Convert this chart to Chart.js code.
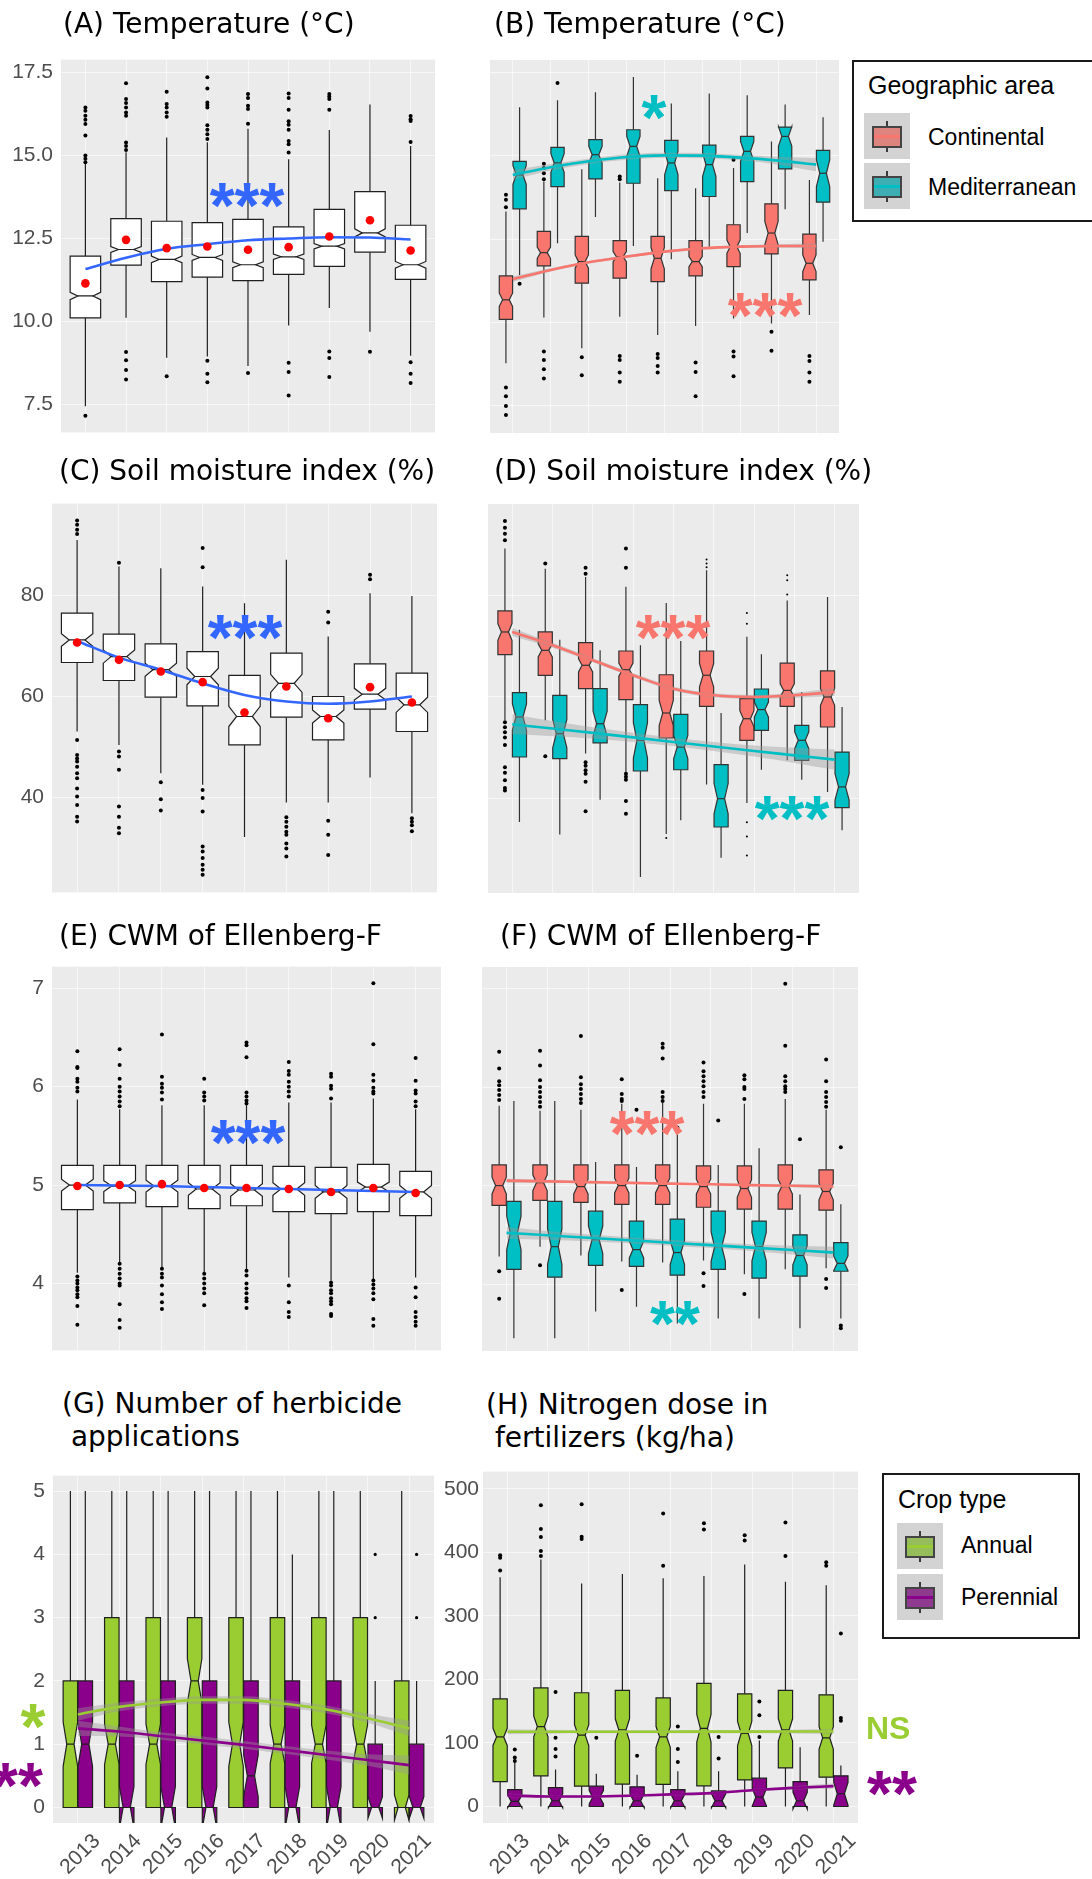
<!DOCTYPE html>
<html>
<head>
<meta charset="utf-8">
<script src="https://cdn.jsdelivr.net/npm/chart.js@4.4.1/dist/chart.umd.min.js"></script>
<style>
  body { margin: 0; width: 1092px; height: 1879px; position: relative; overflow: hidden; background: #fff; }
  .panel { position: absolute; }
</style>
</head>
<body>
<script>
// Years on the x axis
const years = ['2013', '2014', '2015', '2016', '2017', '2018', '2019', '2020', '2021'];

// (A) Temperature, all sites
const tempQ1 = [10.11, 11.70, 11.20, 11.34, 11.23, 11.42, 11.66, 12.09, 11.27];
const tempMed = [10.77, 12.17, 11.87, 11.93, 11.71, 11.95, 12.27, 12.67, 11.71];
const tempQ3 = [11.97, 13.10, 13.02, 12.98, 13.08, 12.85, 13.38, 13.91, 12.90];
const tempLo = [7.45, 10.11, 8.91, 8.95, 8.66, 9.88, 10.41, 9.69, 8.97];
const tempHi = [14.75, 15.10, 15.54, 15.40, 15.81, 14.89, 15.77, 16.54, 15.29];
const tempNotch = [0.11, 0.09, 0.10, 0.09, 0.09, 0.08, 0.08, 0.12, 0.10];
const tempMean = [11.15, 12.46, 12.21, 12.26, 12.16, 12.24, 12.56, 13.05, 12.14];
const tempFit = [11.58, 11.92, 12.19, 12.33, 12.45, 12.50, 12.54, 12.53, 12.47];
const tempOut = [
  [16.45, 16.35, 16.2, 16.08, 15.95, 15.6, 15.0, 14.9, 14.8, 7.16],
  [17.18, 16.7, 16.58, 16.45, 16.3, 16.2, 15.39, 15.29, 15.17, 9.08, 8.83, 8.54, 8.25],
  [16.92, 16.55, 16.45, 16.3, 16.17, 8.35],
  [17.36, 17.02, 16.6, 16.52, 16.45, 15.91, 15.78, 15.64, 15.5, 8.82, 8.43, 8.17],
  [16.85, 16.73, 16.5, 16.4, 15.96, 8.45],
  [16.87, 16.73, 16.38, 16.03, 15.93, 15.78, 15.44, 15.34, 15.09, 8.76, 8.48, 7.77],
  [16.85, 16.78, 16.7, 16.38, 9.1, 8.9, 8.33],
  [9.09],
  [16.19, 16.09, 16.04, 15.41, 8.77, 8.43, 8.15]
];

// (B) Temperature by geographic area
const tcQ1 = [10.08, 11.69, 11.17, 11.32, 11.22, 11.39, 11.67, 12.05, 11.27];
const tcMed = [10.67, 12.09, 11.82, 11.97, 11.92, 11.82, 12.27, 12.68, 11.77];
const tcQ3 = [11.39, 12.73, 12.58, 12.45, 12.58, 12.45, 12.93, 13.56, 12.65];
const tcLo = [8.76, 10.14, 9.21, 10.16, 9.61, 9.88, 10.11, 9.96, 10.21];
const tcHi = [13.33, 14.23, 14.60, 14.20, 14.33, 14.03, 14.64, 15.44, 14.28];
const tcNotch = [0.20, 0.17, 0.20, 0.15, 0.32, 0.15, 0.20, 0.35, 0.25];
const tcFit = [11.29, 11.57, 11.80, 11.97, 12.12, 12.22, 12.27, 12.29, 12.29];
const tcSe = [0.08, 0.05, 0.04, 0.04, 0.04, 0.04, 0.04, 0.05, 0.08];
const tcOut = [
  [13.83, 13.68, 13.46, 8.03, 7.77, 7.47, 7.2],
  [14.77, 14.64, 14.48, 14.3, 9.11, 8.86, 8.58, 8.3],
  [8.94, 8.4],
  [14.38, 14.3, 8.98, 8.86, 8.48, 8.2],
  [9.04, 8.92, 8.68, 8.48],
  [8.78, 8.5, 7.77],
  [14.89, 9.11, 8.96, 8.37],
  [9.71, 9.14],
  [8.98, 8.83, 8.48, 8.2]
];
const tmQ1 = [13.41, 14.08, 14.31, 14.18, 13.96, 13.78, 14.23, 14.61, 13.61];
const tmMed = [14.43, 14.79, 15.04, 15.29, 14.79, 14.74, 15.14, 15.59, 14.48];
const tmQ3 = [14.84, 15.26, 15.49, 15.79, 15.47, 15.33, 15.59, 15.87, 15.17];
const tmLo = [11.42, 12.37, 13.16, 12.29, 11.89, 12.27, 12.68, 13.40, 12.42];
const tmHi = [16.47, 16.68, 16.92, 17.38, 16.58, 16.88, 16.83, 16.55, 16.17];
const tmNotch = [0.28, 0.28, 0.25, 0.30, 0.35, 0.35, 0.30, 0.29, 0.40];
const tmFit = [14.43, 14.66, 14.84, 14.97, 15.02, 15.01, 14.95, 14.86, 14.74];
const tmSe = [0.15, 0.10, 0.08, 0.08, 0.08, 0.08, 0.08, 0.12, 0.20];
const tmOut = [[11.15], [17.2], [], [], [], [], [], [], []];

// (C) Soil moisture index, all sites
const soilQ1 = [66.73, 63.17, 59.87, 58.15, 50.40, 55.90, 51.42, 57.50, 53.07];
const soilMed = [71.2, 67.9, 65.3, 63.96, 56.04, 62.6, 56.04, 60.46, 58.35];
const soilQ3 = [76.5, 72.34, 70.43, 68.9, 64.2, 68.6, 60.0, 66.47, 64.62];
const soilLo = [53.07, 50.4, 44.8, 42.5, 32.15, 39.0, 39.0, 43.96, 36.9];
const soilHi = [91.0, 85.74, 85.4, 81.8, 78.48, 87.06, 71.9, 80.46, 79.9];
const soilNotch = [1.25, 1.3, 1.3, 1.65, 2.0, 1.8, 1.3, 1.15, 1.5];
const soilMean = [70.7, 67.26, 64.95, 62.84, 56.83, 61.98, 55.7, 61.85, 58.8];
const soilFit = [71.0, 67.7, 65.3, 62.6, 60.3, 59.0, 58.55, 59.0, 60.0];
const soilOut = [
  [94.85, 94.0, 93.0, 92.2, 51.4, 48.4, 47.7, 47.1, 46.1, 44.8, 43.8, 41.8, 40.2, 38.5, 36.2, 35.25],
  [86.5, 49.1, 48.1, 45.5, 38.2, 36.2, 34.0, 32.9],
  [43.0, 39.67, 37.4],
  [89.4, 85.6, 41.5, 39.9, 37.2, 30.3, 29.3, 28.0, 26.7, 25.7, 24.7],
  [],
  [36.1, 35.2, 34.2, 33.2, 32.6, 30.9, 29.9, 28.3],
  [76.8, 74.65, 35.4, 32.6, 28.6],
  [84.1, 83.2],
  [35.9, 35.2, 34.5, 33.3]
];

// (D) Soil moisture by geographic area
const scQ1 = [68.38, 64.29, 61.65, 59.47, 51.88, 58.15, 51.42, 58.15, 54.06];
const scMed = [72.87, 69.24, 66.27, 65.4, 56.83, 64.3, 55.7, 61.3, 60.0];
const scQ3 = [77.03, 72.87, 70.76, 69.1, 64.4, 69.1, 59.67, 66.7, 65.15];
const scLo = [55.4, 55.4, 48.8, 45.15, 32.9, 42.7, 39.0, 47.46, 41.2];
const scHi = [89.37, 85.4, 83.76, 81.8, 78.6, 85.1, 71.9, 79.1, 79.8];
const scNotch = [1.65, 1.3, 1.3, 1.3, 2.5, 2.3, 1.6, 1.3, 1.65];
const scFit = [72.87, 70.23, 67.26, 64.3, 61.65, 60.33, 60.0, 60.33, 61.0];
const scSe = [0.8, 0.5, 0.4, 0.4, 0.4, 0.4, 0.4, 0.5, 0.8];
const scOut = [
  [94.85, 93.5, 92.3, 91.0, 55.0, 54.0, 53.0, 52.0, 50.5, 46.1, 45.0, 43.5, 42.0, 41.5],
  [86.4, 48.25],
  [85.6, 84.4, 47.1, 46.4, 45.5, 44.8, 43.2, 37.4],
  [89.4, 85.6, 44.8, 44.2, 43.6, 39.4, 36.9],
  [], [], [], [], []
];
const scOutSmall = [[], [], [], [], [32.1], [87.2, 86.4, 85.7], [76.6, 74.5, 35.2, 32.4, 28.6], [84.1, 83.1, 80.3], []];
const smQ1 = [48.12, 47.8, 50.9, 45.35, 45.6, 34.26, 53.4, 47.46, 38.1];
const smMed = [56.04, 52.74, 54.7, 51.42, 50.1, 39.87, 57.5, 51.42, 42.2];
const smQ3 = [60.86, 60.33, 61.65, 58.48, 56.57, 46.6, 61.58, 54.4, 49.1];
const smLo = [35.25, 32.8, 39.67, 24.35, 35.58, 28.2, 45.6, 43.6, 33.6];
const smHi = [73.33, 71.35, 69.24, 70.23, 71.1, 56.83, 68.45, 61.0, 58.0];
const smNotch = [2.6, 2.8, 2.5, 3.5, 2.3, 3.0, 1.5, 1.65, 2.6];
const smFit = [54.6, 53.75, 52.9, 52.0, 51.1, 50.2, 49.3, 48.45, 47.6];
const smSe = [2.0, 1.5, 1.1, 0.9, 0.8, 0.9, 1.1, 1.5, 2.0];

// (E) CWM of Ellenberg-F, all sites
const ellQ1 = [4.75, 4.82, 4.78, 4.76, 4.79, 4.73, 4.71, 4.73, 4.69];
const ellMed = [5.0, 4.99, 4.99, 4.96, 4.95, 4.96, 4.93, 4.98, 4.93];
const ellQ3 = [5.2, 5.2, 5.2, 5.2, 5.2, 5.19, 5.18, 5.21, 5.14];
const ellLo = [4.11, 4.21, 4.16, 4.11, 4.14, 4.06, 4.03, 4.04, 4.06];
const ellHi = [5.87, 5.77, 5.81, 5.81, 5.81, 5.84, 5.84, 5.88, 5.77];
const ellNotch = [0.06, 0.055, 0.06, 0.065, 0.065, 0.065, 0.065, 0.05, 0.065];
const ellMean = [4.99, 5.0, 5.01, 4.97, 4.97, 4.96, 4.93, 4.97, 4.92];
const ellFit = [5.0, 4.995, 4.99, 4.98, 4.97, 4.96, 4.95, 4.94, 4.93];
const ellOut = [
  [6.36, 6.2, 6.19, 6.08, 6.05, 5.99, 5.95, 4.07, 4.03, 4.0, 3.96, 3.93, 3.89, 3.86, 3.77, 3.58],
  [6.38, 6.22, 6.08, 6.0, 5.95, 5.9, 5.85, 5.8, 4.2, 4.15, 4.1, 4.05, 4.0, 3.98, 3.79, 3.63, 3.55],
  [6.53, 6.1, 6.03, 5.99, 5.94, 5.87, 4.15, 4.1, 4.06, 3.98, 3.89, 3.81, 3.74],
  [6.08, 5.94, 5.9, 5.86, 4.1, 4.05, 4.0, 3.95, 3.9, 3.78],
  [6.45, 6.42, 6.3, 5.94, 5.9, 5.86, 5.83, 4.13, 4.08, 4.0, 3.95, 3.9, 3.85, 3.82, 3.75],
  [6.25, 6.16, 6.12, 6.05, 6.0, 5.95, 5.9, 3.98, 3.81, 3.71, 3.66],
  [6.13, 6.1, 6.01, 5.98, 5.88, 4.01, 3.98, 3.93, 3.9, 3.85, 3.82, 3.79, 3.69, 3.67],
  [7.05, 6.43, 6.12, 6.06, 5.99, 5.95, 5.93, 4.03, 3.99, 3.95, 3.9, 3.84, 3.64, 3.57],
  [6.29, 6.06, 5.96, 5.93, 5.85, 5.8, 3.96, 3.86, 3.71, 3.66, 3.61, 3.57]
];

// (F) CWM of Ellenberg-F by geographic area
const ecQ1 = [4.8, 4.85, 4.83, 4.81, 4.81, 4.78, 4.76, 4.76, 4.75];
const ecMed = [5.0, 5.03, 4.99, 5.0, 5.0, 4.99, 4.97, 4.99, 4.94];
const ecQ3 = [5.21, 5.21, 5.21, 5.21, 5.21, 5.2, 5.2, 5.21, 5.16];
const ecLo = [4.28, 4.38, 4.29, 4.23, 4.22, 4.24, 4.1, 4.15, 4.16];
const ecHi = [5.81, 5.76, 5.77, 5.83, 5.84, 5.83, 5.83, 5.88, 5.77];
const ecNotch = [0.085, 0.08, 0.075, 0.075, 0.075, 0.075, 0.09, 0.075, 0.085];
const ecFit = [5.05, 5.043, 5.035, 5.028, 5.02, 5.013, 5.005, 4.998, 4.99];
const ecSe = [0.02, 0.015, 0.012, 0.01, 0.01, 0.01, 0.012, 0.015, 0.02];
const ecOut = [
  [6.36, 6.19, 6.06, 6.02, 5.97, 5.92, 5.87, 4.13, 3.85],
  [6.37, 6.22, 6.07, 6.0, 5.95, 5.9, 5.85, 5.8, 4.19],
  [6.52, 6.1, 6.03, 5.98, 5.93, 5.88, 5.84],
  [6.08, 5.93, 5.88, 5.86, 3.94],
  [6.44, 6.4, 6.29, 5.95, 5.9, 5.86],
  [6.25, 6.16, 6.11, 6.06, 6.01, 5.95, 5.9, 4.11, 3.98],
  [6.12, 6.08, 6.0, 5.98, 5.88, 3.9],
  [7.05, 6.42, 6.11, 6.06, 6.01, 5.98, 5.95],
  [6.28, 6.06, 5.95, 5.9, 5.85, 5.8, 4.05, 3.96]
];
const emQ1 = [4.15, 4.07, 4.19, 4.18, 4.09, 4.15, 4.06, 4.08, 4.13];
const emMed = [4.52, 4.38, 4.45, 4.35, 4.32, 4.38, 4.38, 4.29, 4.21];
const emQ3 = [4.84, 4.84, 4.74, 4.64, 4.66, 4.74, 4.64, 4.5, 4.42];
const emLo = [3.45, 3.45, 3.72, 3.77, 3.6, 3.65, 3.65, 3.55, 3.65];
const emHi = [5.86, 5.86, 5.24, 5.19, 5.52, 5.21, 5.38, 4.91, 4.81];
const emNotch = [0.17, 0.18, 0.14, 0.085, 0.12, 0.15, 0.145, 0.095, 0.075];
const emFit = [4.52, 4.495, 4.47, 4.445, 4.42, 4.395, 4.37, 4.345, 4.32];
const emSe = [0.06, 0.045, 0.035, 0.03, 0.03, 0.03, 0.035, 0.045, 0.06];
const emOut = [[], [], [], [5.77], [5.59], [5.66], [], [5.47], [5.39, 3.58, 3.55]];

// (G) Number of herbicide applications by crop type
const haQ1 = [0, 0, 0, 0, 0, 0, 0, 0, 0];
const haMed = [1, 1, 1, 2, 1, 1, 1, 1, 0];
const haQ3 = [2, 3, 3, 3, 3, 3, 3, 3, 2];
const haLo = [0, 0, 0, 0, 0, 0, 0, 0, 0];
const haHi = [5, 5, 5, 5, 5, 5, 5, 5, 5];
const haNotch = [0.35, 0.32, 0.32, 0.35, 0.35, 0.3, 0.3, 0.3, 0.2];
const haFit = [1.47, 1.59, 1.66, 1.70, 1.70, 1.64, 1.55, 1.41, 1.25];
const haSe = [0.1, 0.07, 0.06, 0.06, 0.06, 0.06, 0.06, 0.07, 0.12];
const hpQ1 = [0, 0, 0, 0, 0, 0, 0, 0, 0];
const hpMed = [1, 0, 0, 0, 0.5, 0, 0, 0, 0];
const hpQ3 = [2, 2, 2, 2, 2, 2, 2, 1, 1];
const hpLo = [0, 0, 0, 0, 0, 0, 0, 0, 0];
const hpHi = [5, 5, 5, 5, 5, 4, 5, 2, 2];
const hpNotch = [0.35, 0.33, 0.33, 0.33, 0.33, 0.33, 0.33, 0.17, 0.17];
const hpFit = [1.25, 1.20, 1.13, 1.06, 0.99, 0.91, 0.83, 0.75, 0.67];
const hpSe = [0.12, 0.08, 0.06, 0.06, 0.06, 0.06, 0.07, 0.09, 0.15];
const hpOut = [[], [], [], [], [], [], [], [3, 4], [3, 4]];

// (H) Nitrogen dose in fertilizers by crop type
const naQ1 = [39.0, 48.3, 32.0, 35.2, 34.7, 32.5, 41.8, 60.7, 46.1];
const naMed = [109.5, 125.8, 112.3, 120.4, 109.5, 123.0, 115.0, 120.4, 107.9];
const naQ3 = [169.2, 186.6, 179.0, 182.8, 170.8, 193.6, 177.3, 182.8, 175.7];
const naLo = [0, 0, 0, 0, 0, 0, 0, 0, 0];
const naHi = [360.6, 388.8, 350.9, 366.0, 359.0, 362.8, 380.7, 353.6, 348.0];
const naNotch = [13.5, 16.3, 16.3, 17.6, 16.3, 21.7, 19.0, 17.6, 17.6];
const naFit = [117.5, 117.6, 117.6, 117.7, 117.7, 117.8, 117.8, 117.9, 118.0];
const naSe = [4, 3, 2.5, 2.5, 2.5, 2.5, 2.5, 3, 4];
const naOut = [[395.3, 391.5, 371.5], [474, 436.6, 424, 402, 394], [475.6, 424.5, 421], [], [461, 379], [445.8, 436], [426.8, 418.7], [446.9, 394.3], [384.5, 379]];
const npQ1 = [0, 0, 0, 0, 0, 0, 0, 0, 0];
const npMed = [8, 9, 14.6, 9, 9, 9, 14.6, 9, 20];
const npQ3 = [26.6, 29.8, 32, 31, 26.6, 24.4, 44.5, 39, 48.3];
const npLo = [0, 0, 0, 0, 0, 0, 0, 0, 0];
const npHi = [74.3, 58, 51.5, 49.9, 55.3, 55.3, 104, 93.3, 64.5];
const npNotch = [10, 11, 10.5, 11, 11, 11, 14, 13, 18];
const npFit = [17.4, 15.7, 15.7, 16.8, 19.0, 21.0, 25.5, 29.3, 32.0];
const npSe = [3, 2, 2, 2, 2, 2, 2, 2.5, 4];
const npOut = [[89.5, 77, 71.6], [180, 108, 90.6, 78.6], [108], [79.7], [125.8, 90.6, 70], [109.5, 75.4], [165.4, 143.7, 109.5], [], [272.2, 139.4, 135]];

const RED = '#F8766D', TEAL = '#00BFC4', GREEN = '#9ACD32', PURPLE = '#8B008B', BLUE = '#3366FF';
const GRID = 'rgba(255,255,255,0.6)';
const TICK = '#4D4D4D';
const DODGE = 0.18;

// grey panel background
const panelBg = {
  id: 'panelBg',
  beforeDraw(chart) {
    const { ctx, chartArea: a } = chart;
    ctx.save();
    ctx.fillStyle = '#EBEBEB';
    ctx.fillRect(a.left, a.top, a.right - a.left, a.bottom - a.top);
    ctx.restore();
  }
};

// notched boxplots, ggplot style
const boxPlugin = {
  id: 'boxes',
  beforeDatasetsDraw(chart, args, opts) {
    const { ctx, chartArea: a, scales: { x, y } } = chart;
    ctx.save();
    ctx.beginPath();
    ctx.rect(a.left, a.top, a.right - a.left, a.bottom - a.top);
    ctx.clip();
    for (const s of opts.series) {
      for (let i = 0; i < s.q1.length; i++) {
        const xc = i + s.off;
        const x0 = x.getPixelForValue(xc - s.w / 2);
        const x1 = x.getPixelForValue(xc + s.w / 2);
        const xm = x.getPixelForValue(xc);
        const ind = (x1 - x0) * 0.25;
        const py = v => y.getPixelForValue(v);
        ctx.strokeStyle = s.stroke;
        ctx.lineWidth = 1.2;
        ctx.beginPath();
        ctx.moveTo(xm, py(s.hi[i])); ctx.lineTo(xm, py(s.q3[i]));
        ctx.moveTo(xm, py(s.q1[i])); ctx.lineTo(xm, py(s.lo[i]));
        ctx.stroke();
        const m = s.med[i], nu = m + s.notch[i], nl = m - s.notch[i];
        ctx.beginPath();
        ctx.moveTo(x0, py(s.q3[i]));
        ctx.lineTo(x0, py(nu));
        ctx.lineTo(x0 + ind, py(m));
        ctx.lineTo(x0, py(nl));
        ctx.lineTo(x0, py(s.q1[i]));
        ctx.lineTo(x1, py(s.q1[i]));
        ctx.lineTo(x1, py(nl));
        ctx.lineTo(x1 - ind, py(m));
        ctx.lineTo(x1, py(nu));
        ctx.lineTo(x1, py(s.q3[i]));
        ctx.closePath();
        ctx.fillStyle = s.fill;
        ctx.fill();
        ctx.stroke();
        ctx.beginPath();
        ctx.moveTo(x0 + ind, py(m)); ctx.lineTo(x1 - ind, py(m));
        ctx.stroke();
      }
    }
    ctx.restore();
  }
};

function box(q1, med, q3, lo, hi, notch, off, w, fill, stroke) {
  return { q1, med, q3, lo, hi, notch, off, w, fill, stroke };
}

function outliers(out, off, r = 2) {
  const pts = [];
  out.forEach((vals, i) => vals.forEach(v => pts.push({ x: i + off, y: v })));
  return { type: 'scatter', data: pts, pointRadius: r, pointBackgroundColor: '#000', pointBorderWidth: 0, order: 10 };
}

function means(vals) {
  return { type: 'scatter', data: vals.map((v, i) => ({ x: i, y: v })), pointRadius: 4.3, pointBackgroundColor: '#FF0000', pointBorderWidth: 0, order: 1 };
}

function fitLine(vals, color) {
  return { type: 'line', data: vals.map((v, i) => ({ x: i, y: v })), borderColor: color, borderWidth: 2.6, pointRadius: 0, fill: false, cubicInterpolationMode: 'monotone', order: 5 };
}

function ribbon(fit, se) {
  return [
    { type: 'line', data: fit.map((v, i) => ({ x: i, y: v - se[i] })), borderWidth: 0, borderColor: 'rgba(0,0,0,0)', pointRadius: 0, fill: false, cubicInterpolationMode: 'monotone', order: 8 },
    { type: 'line', data: fit.map((v, i) => ({ x: i, y: v + se[i] })), borderWidth: 0, borderColor: 'rgba(0,0,0,0)', pointRadius: 0, fill: '-1', backgroundColor: 'rgba(153,153,153,0.4)', cubicInterpolationMode: 'monotone', order: 7 }
  ];
}

function config(c) {
  const tickFont = { family: "'Liberation Sans', Arial, sans-serif", size: 21 };
  return {
    type: 'scatter',
    data: { datasets: c.datasets },
    options: {
      animation: false,
      responsive: false,
      maintainAspectRatio: false,
      devicePixelRatio: 1,
      events: [],
      layout: { padding: { top: 14, right: 30, bottom: 14, left: 0 } },
      plugins: { legend: { display: false }, tooltip: { enabled: false }, boxes: { series: c.boxes } },
      scales: {
        x: {
          type: 'linear', min: -0.6, max: 8.6,
          border: { display: false },
          grid: { color: GRID, drawTicks: false },
          ticks: {
            display: !!c.xLabels, stepSize: 1, includeBounds: false, autoSkip: false,
            minRotation: 45, maxRotation: 45, padding: 6, labelOffset: 19,
            font: tickFont, color: TICK,
            callback: v => years[v] || ''
          },
          afterFit: s => { s.height = c.xLabels ? 60 : 0; }
        },
        y: {
          type: 'linear', min: c.yMin, max: c.yMax,
          border: { display: false },
          grid: { color: GRID, drawTicks: false },
          ticks: {
            display: !!c.yLabels, stepSize: c.yStep, includeBounds: false, padding: c.yPad || 8,
            font: tickFont, color: TICK,
            callback: c.yFmt || (v => String(v))
          },
          afterFit: s => { s.width = c.yw; }
        }
      }
    },
    plugins: [panelBg, boxPlugin]
  };
}

// place a chart so that its plot area lands on l,t,r,b of the page
function makePanel(c) {
  const wrap = document.createElement('div');
  wrap.className = 'panel';
  document.body.appendChild(wrap);
  let W = (c.r - c.l) + c.yw + 30;
  let H = (c.b - c.t) + 28 + (c.xLabels ? 60 : 0);
  const build = () => {
    wrap.innerHTML = '';
    const cv = document.createElement('canvas');
    cv.width = W; cv.height = H;
    cv.style.width = W + 'px'; cv.style.height = H + 'px';
    wrap.appendChild(cv);
    return new Chart(cv, config(c));
  };
  let chart = build();
  let a = chart.chartArea;
  const dw = (c.r - c.l) - (a.right - a.left);
  const dh = (c.b - c.t) - (a.bottom - a.top);
  if (Math.abs(dw) > 0.01 || Math.abs(dh) > 0.01) {
    chart.destroy();
    W = Math.round(W + dw); H = Math.round(H + dh);
    chart = build();
    a = chart.chartArea;
  }
  wrap.style.left = (c.l - a.left) + 'px';
  wrap.style.top = (c.t - a.top) + 'px';
}

// text placed by the vertical centre of its capitals
const DEJAVU = { fam: "'DejaVu Sans', Verdana, sans-serif", a: 0.928, d: 0.236, c: 0.3645 };
const LIB = { fam: "'Liberation Sans', Arial, sans-serif", a: 0.905, d: 0.212, c: 0.358 };
const STAR = { fam: "'Liberation Sans', Arial, sans-serif", a: 0.905, d: 0.212, c: 0.6 };

function addText(txt, x, cy, o) {
  const f = o.size, lh = o.lh || f, m = o.m;
  const base = (lh - (m.a + m.d) * f) / 2 + m.a * f;
  const top = cy - (base - m.c * f);
  const d = document.createElement('div');
  d.textContent = txt;
  d.style.cssText = 'position:absolute;white-space:pre;left:' + x + 'px;top:' + top + 'px;font-family:' + m.fam +
    ';font-size:' + f + 'px;line-height:' + lh + 'px;font-weight:' + (o.weight || 'normal') + ';color:' + (o.color || '#000') +
    ';' + (o.center ? 'transform:translateX(-50%);' : '');
  document.body.appendChild(d);
}

function title(txt, x, cy) { addText(txt, x, cy, { size: 28, lh: 33, m: DEJAVU }); }
function stars(txt, cx, cy, color, size = 64) { addText(txt, cx, cy, { size, m: STAR, weight: 'bold', color, center: true }); }

function rect(x, y, w, h, css) {
  const d = document.createElement('div');
  d.style.cssText = 'position:absolute;box-sizing:border-box;left:' + x + 'px;top:' + y + 'px;width:' + w + 'px;height:' + h + 'px;' + css;
  document.body.appendChild(d);
}

function legendKey(x, y, fill, line) {
  rect(x, y, 46, 46, 'background:#D3D3D3;');
  rect(x + 22, y + 8, 2, 31, 'background:#3a3a3a;');
  rect(x + 8, y + 13, 30, 22, 'background:' + fill + ';border:2px solid #444;');
  rect(x + 10, y + 22, 26, 3, 'background:' + line + ';');
}

// ---- panels ----
makePanel({
  l: 61, t: 60, r: 435, b: 433, yMin: 6.66, yMax: 17.89, yStep: 2.5, yFmt: v => v.toFixed(1), yLabels: true, yw: 61,
  boxes: [box(tempQ1, tempMed, tempQ3, tempLo, tempHi, tempNotch, 0, 0.75, '#FFFFFF', '#1f1f1f')],
  datasets: [outliers(tempOut, 0), fitLine(tempFit, BLUE), means(tempMean)]
});

makePanel({
  l: 490, t: 60, r: 839, b: 433, yMin: 6.66, yMax: 17.89, yStep: 2.5, yLabels: false, yw: 0,
  boxes: [
    box(tcQ1, tcMed, tcQ3, tcLo, tcHi, tcNotch, -DODGE, 0.35, RED, '#333'),
    box(tmQ1, tmMed, tmQ3, tmLo, tmHi, tmNotch, DODGE, 0.35, TEAL, '#333')
  ],
  datasets: [outliers(tcOut, -DODGE), outliers(tmOut, DODGE), ...ribbon(tcFit, tcSe), ...ribbon(tmFit, tmSe), fitLine(tcFit, RED), fitLine(tmFit, TEAL)]
});

makePanel({
  l: 52, t: 504, r: 437, b: 893, yMin: 21.2, yMax: 98.2, yStep: 20, yLabels: true, yw: 52,
  boxes: [box(soilQ1, soilMed, soilQ3, soilLo, soilHi, soilNotch, 0, 0.75, '#FFFFFF', '#1f1f1f')],
  datasets: [outliers(soilOut, 0), fitLine(soilFit, BLUE), means(soilMean)]
});

makePanel({
  l: 488, t: 504, r: 859, b: 893, yMin: 21.2, yMax: 98.2, yStep: 20, yLabels: false, yw: 0,
  boxes: [
    box(scQ1, scMed, scQ3, scLo, scHi, scNotch, -DODGE, 0.35, RED, '#333'),
    box(smQ1, smMed, smQ3, smLo, smHi, smNotch, DODGE, 0.35, TEAL, '#333')
  ],
  datasets: [outliers(scOut, -DODGE), outliers(scOutSmall, -DODGE, 1), ...ribbon(scFit, scSe), ...ribbon(smFit, smSe), fitLine(scFit, RED), fitLine(smFit, TEAL)]
});

makePanel({
  l: 52, t: 967, r: 441, b: 1351, yMin: 3.32, yMax: 7.22, yStep: 1, yLabels: true, yw: 52,
  boxes: [box(ellQ1, ellMed, ellQ3, ellLo, ellHi, ellNotch, 0, 0.75, '#FFFFFF', '#1f1f1f')],
  datasets: [outliers(ellOut, 0), fitLine(ellFit, BLUE), means(ellMean)]
});

makePanel({
  l: 482, t: 967, r: 858, b: 1351, yMin: 3.32, yMax: 7.22, yStep: 1, yLabels: false, yw: 0,
  boxes: [
    box(ecQ1, ecMed, ecQ3, ecLo, ecHi, ecNotch, -DODGE, 0.35, RED, '#333'),
    box(emQ1, emMed, emQ3, emLo, emHi, emNotch, DODGE, 0.35, TEAL, '#333')
  ],
  datasets: [outliers(ecOut, -DODGE), outliers(emOut, DODGE), ...ribbon(ecFit, ecSe), ...ribbon(emFit, emSe), fitLine(ecFit, RED), fitLine(emFit, TEAL)]
});

makePanel({
  l: 53, t: 1476, r: 434, b: 1823, yMin: -0.245, yMax: 5.245, yStep: 1, yLabels: true, yw: 53, xLabels: true,
  boxes: [
    box(haQ1, haMed, haQ3, haLo, haHi, haNotch, -DODGE, 0.35, GREEN, '#1f1f1f'),
    box(hpQ1, hpMed, hpQ3, hpLo, hpHi, hpNotch, DODGE, 0.35, PURPLE, '#1f1f1f')
  ],
  datasets: [outliers(hpOut, DODGE, 1.6), ...ribbon(haFit, haSe), ...ribbon(hpFit, hpSe), fitLine(haFit, GREEN), fitLine(hpFit, PURPLE)]
});

makePanel({
  l: 483, t: 1472, r: 858, b: 1823, yMin: -26, yMax: 527, yStep: 100, yLabels: true, yw: 44, yPad: 4, xLabels: true,
  boxes: [
    box(naQ1, naMed, naQ3, naLo, naHi, naNotch, -DODGE, 0.35, GREEN, '#1f1f1f'),
    box(npQ1, npMed, npQ3, npLo, npHi, npNotch, DODGE, 0.35, PURPLE, '#1f1f1f')
  ],
  datasets: [outliers(naOut, -DODGE), outliers(npOut, DODGE), ...ribbon(naFit, naSe), ...ribbon(npFit, npSe), fitLine(naFit, GREEN), fitLine(npFit, PURPLE)]
});

// ---- titles ----
title('(A) Temperature (°C)', 63, 23);
title('(B) Temperature (°C)', 494, 23);
title('(C) Soil moisture index (%)', 59, 470);
title('(D) Soil moisture index (%)', 494, 470);
title('(E) CWM of Ellenberg-F', 59, 935);
title('(F) CWM of Ellenberg-F', 500, 935);
title('(G) Number of herbicide\n applications', 62, 1403);
title('(H) Nitrogen dose in\n fertilizers (kg/ha)', 486, 1404);

// ---- significance marks ----
stars('***', 247, 190, BLUE);
stars('*', 654, 102, TEAL);
stars('***', 765, 300, RED);
stars('***', 245, 622, BLUE);
stars('***', 673, 622, RED);
stars('***', 792, 803, TEAL);
stars('***', 248, 1127, BLUE);
stars('***', 647, 1118, RED);
stars('**', 675, 1308, TEAL);
stars('*', 33, 1711, GREEN);
stars('**', 18, 1770, PURPLE);
addText('NS', 866, 1728, { size: 32, m: LIB, weight: 'bold', color: GREEN });
stars('**', 892, 1778, PURPLE);

// ---- legends ----
rect(852, 60, 242, 162, 'border:2px solid #1a1a1a;background:#fff;');
addText('Geographic area', 868, 85, { size: 25, m: LIB });
legendKey(864, 113, '#DC847D', RED);
legendKey(864, 163, '#3FAEB3', TEAL);
addText('Continental', 928, 137, { size: 23, m: LIB });
addText('Mediterranean', 928, 187, { size: 23, m: LIB });

rect(882, 1473, 198, 166, 'border:2px solid #1a1a1a;background:#fff;');
addText('Crop type', 898, 1499, { size: 25, m: LIB });
legendKey(897, 1523, '#97BC5C', GREEN);
legendKey(897, 1574, '#8E3A8E', PURPLE);
addText('Annual', 961, 1545, { size: 23, m: LIB });
addText('Perennial', 961, 1597, { size: 23, m: LIB });
</script>
</body>
</html>
